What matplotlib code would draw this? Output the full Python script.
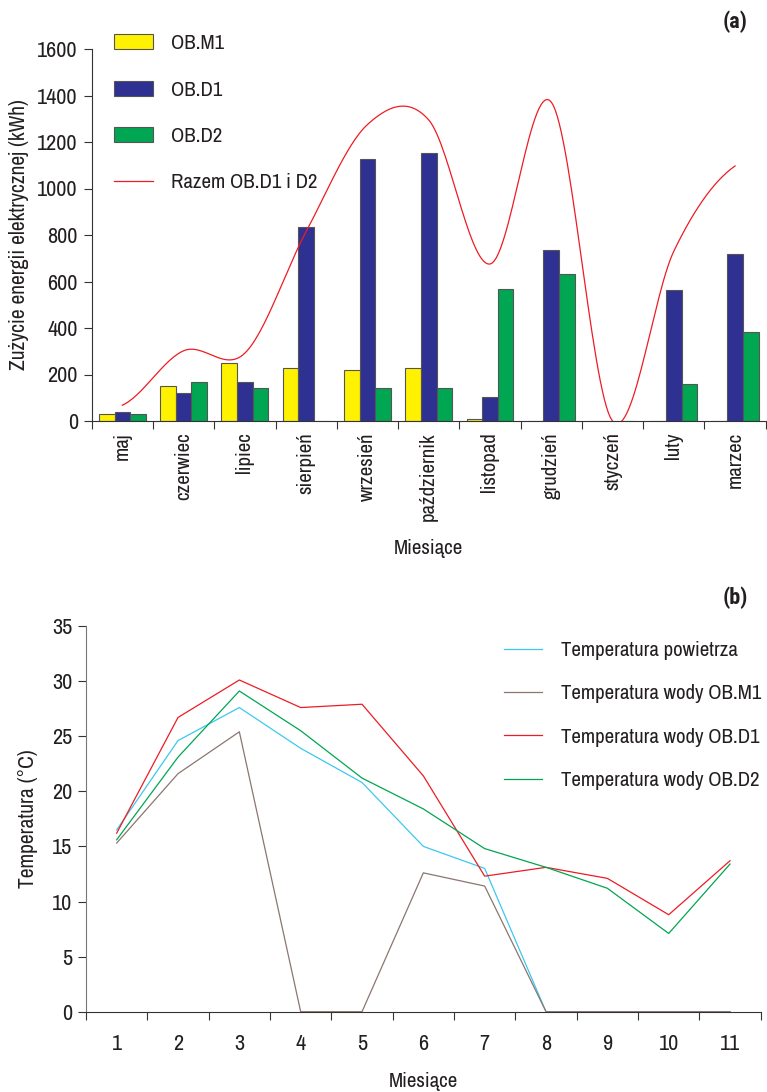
import numpy as np
import matplotlib.pyplot as plt

plt.rcParams['font.family'] = ['Archivo Narrow', 'DejaVu Sans']
plt.rcParams['text.color'] = '#231f20'
plt.rcParams['axes.labelcolor'] = '#231f20'
plt.rcParams['xtick.color'] = '#333333'
plt.rcParams['ytick.color'] = '#333333'
plt.rcParams['xtick.labelcolor'] = '#231f20'
plt.rcParams['ytick.labelcolor'] = '#231f20'

# (a) monthly electricity use, kWh
months = ['maj', 'czerwiec', 'lipiec', 'sierpień', 'wrzesień', 'październik',
          'listopad', 'grudzień', 'styczeń', 'luty', 'marzec']
ob_m1 = [29, 151, 250, 226, 221, 230, 10, 0, 0, 0, 0]
ob_d1 = [37, 122, 167, 833, 1126, 1152, 103, 735, 0, 563, 717]
ob_d2 = [29, 167, 142, 0, 142, 142, 569, 632, 0, 157, 382]
razem = [68, 302, 292, 815, 1275, 1295, 675, 1372, 0, 730, 1097]
energy_ticks = [0, 200, 400, 600, 800, 1000, 1200, 1400, 1600]

# (b) temperatures, deg C
temp_months = [1, 2, 3, 4, 5, 6, 7, 8, 9, 10, 11]
t_air = [16.5, 24.6, 27.6, 23.9, 20.8, 15.0, 13.0, 0, 0, 0, 0]
t_m1 = [15.3, 21.6, 25.4, 0, 0, 12.6, 11.4, 0, 0, 0, 0]
t_d1 = [16.2, 26.7, 30.1, 27.6, 27.9, 21.4, 12.3, 13.1, 12.1, 8.8, 13.7]
t_d2 = [15.6, 23.1, 29.1, 25.5, 21.2, 18.4, 14.8, 13.1, 11.2, 7.1, 13.4]
temp_ticks = [0, 5, 10, 15, 20, 25, 30, 35]


def smooth_line(y, n=30):
    # Catmull-Rom curve through the points (like Excel's smoothed line)
    y = np.asarray(y, dtype=float)
    ext = np.concatenate([[y[0]], y, [y[-1]]])
    xs, ys = [], []
    for i in range(len(y) - 1):
        p0, p1, p2, p3 = ext[i], ext[i + 1], ext[i + 2], ext[i + 3]
        m1 = (p2 - p0) / 2
        m2 = (p3 - p1) / 2
        t = np.linspace(0, 1, n, endpoint=False)
        h00 = 2 * t**3 - 3 * t**2 + 1
        h10 = t**3 - 2 * t**2 + t
        h01 = -2 * t**3 + 3 * t**2
        h11 = t**3 - t**2
        xs.append(i + t)
        ys.append(h00 * p1 + h10 * m1 + h01 * p2 + h11 * m2)
    xs.append([len(y) - 1])
    ys.append([y[-1]])
    return np.concatenate(xs), np.concatenate(ys)


fig = plt.figure(figsize=(7.67, 10.92), dpi=100)
fs = 15
tfs = 16
bold = dict(fontsize=16, fontweight='bold', family=['Roboto Condensed', 'DejaVu Sans'],
            ha='center', va='center')

# ---------- (a) ----------
ax1 = fig.add_axes([91.7 / 767, 1 - 421 / 1092, 674 / 767, 372 / 1092])
x = np.arange(len(months))
w = 0.255
edge = dict(edgecolor='#555555', linewidth=0.8)
b1 = ax1.bar(x - w, ob_m1, w, color='#fff200', label='OB.M1', **edge)
b2 = ax1.bar(x, ob_d1, w, color='#2e3192', label='OB.D1', **edge)
b3 = ax1.bar(x + w, ob_d2, w, color='#00a651', label='OB.D2', **edge)
sx, sy = smooth_line(razem)
ln, = ax1.plot(sx, sy, color='#ed1c24', lw=0.9, label='Razem OB.D1 i D2', zorder=5)

ax1.set_xlim(-0.5, len(months) - 0.5)
ax1.set_ylim(0, 1600)
ax1.set_yticks(energy_ticks)
ax1.set_xticks(np.arange(len(months) + 1) - 0.5)
ax1.set_xticklabels([])
ax1.set_xticks(x, minor=True)
ax1.set_xticklabels(months, minor=True, rotation=90, fontsize=fs)
ax1.tick_params(axis='x', which='minor', length=0, pad=8)
ax1.tick_params(axis='x', which='major', length=6, direction='out')
ax1.tick_params(axis='y', length=6, labelsize=tfs, pad=4)
ax1.spines[['top', 'right']].set_visible(False)
ax1.spines[['left', 'bottom']].set_color('#333333')
ax1.set_ylabel('Zużycie energii elektrycznej (kWh)', fontsize=15.5, labelpad=6)
ax1.set_xlabel('Miesiące', fontsize=fs, labelpad=13)
ax1.legend(handles=[b1, b2, b3, ln], loc='upper left',
           bbox_to_anchor=(114 / 767, 1 - 34 / 1092),
           bbox_transform=fig.transFigure, frameon=False, fontsize=fs,
           borderpad=0, borderaxespad=0, handlelength=1.85, handletextpad=0.9,
           labelspacing=1.32)
fig.text(735 / 767, 1 - 22 / 1092, '(a)', **bold)

# ---------- (b) ----------
ax2 = fig.add_axes([86 / 767, 1 - 1011.7 / 1092, 674.7 / 767, 385.7 / 1092])
ax2.plot(temp_months, t_air, color='#3cc8f0', lw=0.9, label='Temperatura powietrza')
ax2.plot(temp_months, t_m1, color='#8b7670', lw=0.9, label='Temperatura wody OB.M1')
ax2.plot(temp_months, t_d1, color='#ed1c24', lw=0.9, label='Temperatura wody OB.D1')
ax2.plot(temp_months, t_d2, color='#00a651', lw=0.9, label='Temperatura wody OB.D2')
ax2.set_xlim(0.5, 11.5)
ax2.set_ylim(0, 35)
ax2.set_yticks(temp_ticks)
ax2.set_xticks(np.arange(0.5, 12, 1))
ax2.set_xticklabels([])
ax2.set_xticks(temp_months, minor=True)
ax2.set_xticklabels([str(m) for m in temp_months], minor=True, fontsize=tfs)
ax2.tick_params(axis='x', which='minor', length=0, pad=16)
ax2.tick_params(axis='x', which='major', length=6, direction='out')
ax2.tick_params(axis='y', length=6, labelsize=tfs, pad=4)
ax2.spines[['top', 'right']].set_visible(False)
ax2.spines['left'].set_color('#777777')
ax2.spines['bottom'].set_color('#333333')
ax2.set_ylabel('Temperatura (°C)', fontsize=15.5, labelpad=10)
ax2.set_xlabel('Miesiące', fontsize=fs, labelpad=13)
ax2.legend(loc='upper left', bbox_to_anchor=(504 / 767, 1 - 641 / 1092),
           bbox_transform=fig.transFigure, frameon=False, fontsize=fs,
           borderpad=0, borderaxespad=0, handlelength=1.8, handletextpad=0.95,
           labelspacing=1.17)
fig.text(735 / 767, 1 - 598 / 1092, '(b)', **bold)

fig.savefig('out.png', dpi=100)
